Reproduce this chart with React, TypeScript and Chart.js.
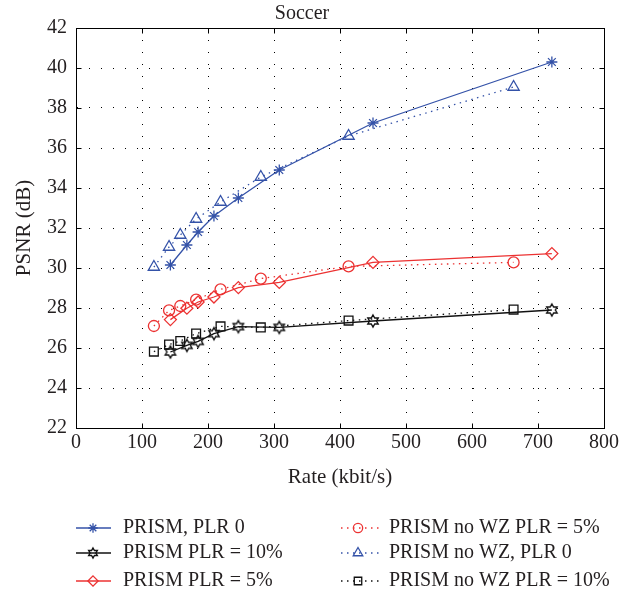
import React, { useEffect, useRef } from "react";
import { Chart, registerables } from "chart.js";

Chart.register(...registerables);

// ---- data ----
const rateWZ = [143, 168, 185, 209, 246, 308, 450, 721];
const rateNoWZ = [118, 141, 158, 182, 219, 280, 413, 663];
const prismPlr0 = [30.15, 31.15, 31.8, 32.6, 33.5, 34.9, 37.25, 40.3];
const noWzPlr0 = [30.05, 31.05, 31.65, 32.45, 33.3, 34.55, 36.6, 39.05];
const prismPlr5 = [27.42, 27.99, 28.3, 28.55, 29.02, 29.28, 30.28, 30.72];
const noWzPlr5 = [27.1, 27.88, 28.1, 28.42, 28.93, 29.47, 30.08, 30.28];
const prismPlr10 = [25.8, 26.13, 26.33, 26.72, 27.07, 27.03, 27.35, 27.9];
const noWzPlr10 = [25.82, 26.17, 26.35, 26.72, 27.08, 27.03, 27.37, 27.92];
const xTicks = [0, 100, 200, 300, 400, 500, 600, 700, 800];
const yTicks = [22, 24, 26, 28, 30, 32, 34, 36, 38, 40, 42];
const titleText = "Soccer";
const xTitle = "Rate (kbit/s)";
const yTitle = "PSNR (dB)";
const seriesLabels = [
  "PRISM, PLR 0",
  "PRISM PLR = 10%",
  "PRISM PLR = 5%",
  "PRISM no WZ PLR = 5%",
  "PRISM no WZ, PLR 0",
  "PRISM no WZ PLR = 10%",
];

const BLUE = "#3452a8";
const RED = "#ec3232";
const BLACK = "#111111";
const TEXT = "#231f20";
const FONT = "'Liberation Serif', 'Times New Roman', serif";

function makeHexagram(color: string, R: number) {
  const s = 18;
  const c = document.createElement("canvas");
  c.width = s;
  c.height = s;
  const ctx = c.getContext("2d")!;
  const r = R / Math.sqrt(3);
  ctx.beginPath();
  for (let i = 0; i < 12; i++) {
    const a = -Math.PI / 2 + (i * Math.PI) / 6;
    const rr = i % 2 === 0 ? R : r;
    const x = s / 2 + rr * Math.cos(a);
    const y = s / 2 + rr * Math.sin(a);
    if (i === 0) ctx.moveTo(x, y);
    else ctx.lineTo(x, y);
  }
  ctx.closePath();
  ctx.strokeStyle = color;
  ctx.lineWidth = 1.4;
  ctx.stroke();
  return c;
}

function toPts(xs: number[], ys: number[]) {
  return xs.map((x, i) => ({ x, y: ys[i] }));
}

function drawMarker(ctx: CanvasRenderingContext2D, style: any, x: number, y: number, r: number, color: string) {
  ctx.save();
  ctx.strokeStyle = color;
  ctx.lineWidth = 1.3;
  ctx.setLineDash([]);
  if (typeof style !== "string") {
    ctx.drawImage(style, x - style.width / 2, y - style.height / 2);
    ctx.restore();
    return;
  }
  ctx.beginPath();
  if (style === "star") {
    for (let i = 0; i < 4; i++) {
      const a = (i * Math.PI) / 4;
      ctx.moveTo(x - r * Math.cos(a), y - r * Math.sin(a));
      ctx.lineTo(x + r * Math.cos(a), y + r * Math.sin(a));
    }
  } else if (style === "triangle") {
    for (let i = 0; i < 3; i++) {
      const a = (i * 2 * Math.PI) / 3;
      const px = x + Math.sin(a) * r;
      const py = y - Math.cos(a) * r;
      if (i === 0) ctx.moveTo(px, py);
      else ctx.lineTo(px, py);
    }
    ctx.closePath();
  } else if (style === "circle") {
    ctx.arc(x, y, r, 0, Math.PI * 2);
  } else if (style === "rectRot") {
    ctx.moveTo(x, y - r);
    ctx.lineTo(x + r, y);
    ctx.lineTo(x, y + r);
    ctx.lineTo(x - r, y);
    ctx.closePath();
  } else if (style === "rect") {
    const h = Math.SQRT1_2 * r;
    ctx.rect(x - h, y - h, 2 * h, 2 * h);
  }
  ctx.stroke();
  ctx.restore();
}

export default function App() {
  const ref = useRef<HTMLCanvasElement>(null);

  useEffect(() => {
    const hex = makeHexagram(BLACK, 6);
    const hexSmall = makeHexagram(BLACK, 5);
    const solid: number[] = [];
    const dotted = [1.5, 4.5];

    const series = [
      { label: seriesLabels[0], data: toPts(rateWZ, prismPlr0), color: BLUE, style: "star", lstyle: "star", r: 5.5, dash: solid },
      { label: seriesLabels[1], data: toPts(rateWZ, prismPlr10), color: BLACK, style: hex, lstyle: hexSmall, r: 6, dash: solid },
      { label: seriesLabels[2], data: toPts(rateWZ, prismPlr5), color: RED, style: "rectRot", lstyle: "rectRot", r: 6, dash: solid },
      { label: seriesLabels[3], data: toPts(rateNoWZ, noWzPlr5), color: RED, style: "circle", lstyle: "circle", r: 5.5, dash: dotted },
      { label: seriesLabels[4], data: toPts(rateNoWZ, noWzPlr0), color: BLUE, style: "triangle", lstyle: "triangle", r: 6.5, dash: dotted },
      { label: seriesLabels[5], data: toPts(rateNoWZ, noWzPlr10), color: BLACK, style: "rect", lstyle: "rect", r: 6.2, dash: dotted },
    ];

    const legendPos = [
      { lx0: 76, lx1: 111, mx: 93, tx: 123, y: 528 },
      { lx0: 76, lx1: 111, mx: 93, tx: 123, y: 553 },
      { lx0: 76, lx1: 111, mx: 93, tx: 123, y: 581 },
      { lx0: 341, lx1: 379, mx: 358, tx: 389, y: 528 },
      { lx0: 341, lx1: 379, mx: 358, tx: 389, y: 553 },
      { lx0: 341, lx1: 379, mx: 358, tx: 389, y: 581 },
    ];

    const framePlugin = {
      id: "frame",
      afterDraw(chart: any) {
        const { ctx, chartArea: a, scales } = chart;
        ctx.save();
        ctx.strokeStyle = "#000";
        ctx.lineWidth = 1;
        const L = Math.round(a.left) + 0.5;
        const T = Math.round(a.top) + 0.5;
        const Rr = Math.round(a.right) + 0.5;
        const B = Math.round(a.bottom) + 0.5;
        ctx.beginPath();
        ctx.rect(L, T, Rr - L, B - T);
        xTicks.forEach((v) => {
          const x = Math.round(scales.x.getPixelForValue(v)) + 0.5;
          ctx.moveTo(x, B);
          ctx.lineTo(x, B - 5);
          ctx.moveTo(x, T);
          ctx.lineTo(x, T + 5);
        });
        yTicks.forEach((v) => {
          const y = Math.round(scales.y.getPixelForValue(v)) + 0.5;
          ctx.moveTo(L, y);
          ctx.lineTo(L + 5, y);
          ctx.moveTo(Rr, y);
          ctx.lineTo(Rr - 5, y);
        });
        ctx.stroke();

        // legend
        series.forEach((s, i) => {
          const p = legendPos[i];
          ctx.save();
          ctx.strokeStyle = s.color;
          ctx.lineWidth = 1.3;
          ctx.setLineDash(s.dash);
          ctx.beginPath();
          ctx.moveTo(p.lx0, p.y);
          ctx.lineTo(p.lx1, p.y);
          ctx.stroke();
          ctx.restore();
          drawMarker(ctx, s.lstyle, p.mx, p.y, s.r * 0.85, s.color);
          ctx.fillStyle = TEXT;
          ctx.font = `20px ${FONT}`;
          ctx.textBaseline = "middle";
          ctx.textAlign = "left";
          ctx.fillText(s.label, p.tx, p.y);
        });
        ctx.restore();
      },
    };

    const chart = new Chart(ref.current!, {
      type: "scatter",
      data: {
        datasets: series.map((s) => ({
          label: s.label,
          data: s.data,
          showLine: true,
          borderColor: s.color,
          backgroundColor: "rgba(0,0,0,0)",
          borderWidth: 1.3,
          borderDash: s.dash,
          pointStyle: s.style as any,
          pointRadius: s.r,
          pointBorderColor: s.color,
          pointBackgroundColor: "rgba(0,0,0,0)",
          pointBorderWidth: 1.3,
          tension: 0,
        })),
      },
      options: {
        responsive: false,
        animation: false,
        events: [],
        layout: { padding: { top: 0, right: 27, bottom: 106, left: 0 } },
        plugins: {
          legend: { display: false },
          tooltip: { enabled: false },
          title: {
            display: true,
            text: titleText,
            color: TEXT,
            font: { family: FONT, size: 20, weight: "normal" },
            padding: { top: 2, bottom: 2 },
          },
        },
        scales: {
          x: {
            type: "linear",
            min: 0,
            max: 800,
            afterBuildTicks: (scale: any) => {
              scale.ticks = xTicks.map((v) => ({ value: v }));
            },
            afterFit: (scale: any) => {
              scale.height = 62;
            },
            ticks: {
              color: TEXT,
              font: { family: FONT, size: 20 },
              padding: 3,
              maxRotation: 0,
              autoSkip: false,
            },
            grid: { color: "#000", lineWidth: 1, drawTicks: false },
            border: { display: true, color: "#000", dash: [1, 11] },
            title: {
              display: true,
              text: xTitle,
              color: TEXT,
              font: { family: FONT, size: 21 },
              padding: { top: 0, bottom: 0 },
            },
          },
          y: {
            type: "linear",
            min: 22,
            max: 42,
            afterBuildTicks: (scale: any) => {
              scale.ticks = yTicks.map((v) => ({ value: v }));
            },
            afterFit: (scale: any) => {
              scale.width = 76;
            },
            ticks: {
              color: TEXT,
              font: { family: FONT, size: 20 },
              padding: 9,
              autoSkip: false,
            },
            grid: { color: "#000", lineWidth: 1, drawTicks: false },
            border: { display: true, color: "#000", dash: [1, 11] },
            title: {
              display: true,
              text: yTitle,
              color: TEXT,
              font: { family: FONT, size: 21 },
              padding: { top: 12, bottom: 0 },
            },
          },
        },
      },
      plugins: [framePlugin],
    });
    return () => chart.destroy();
  }, []);

  return (
    <div style={{ position: "absolute", left: 0, top: 0, width: 631, height: 596, background: "#fff" }}>
      <canvas ref={ref} width={631} height={596} style={{ display: "block" }} />
    </div>
  );
}
